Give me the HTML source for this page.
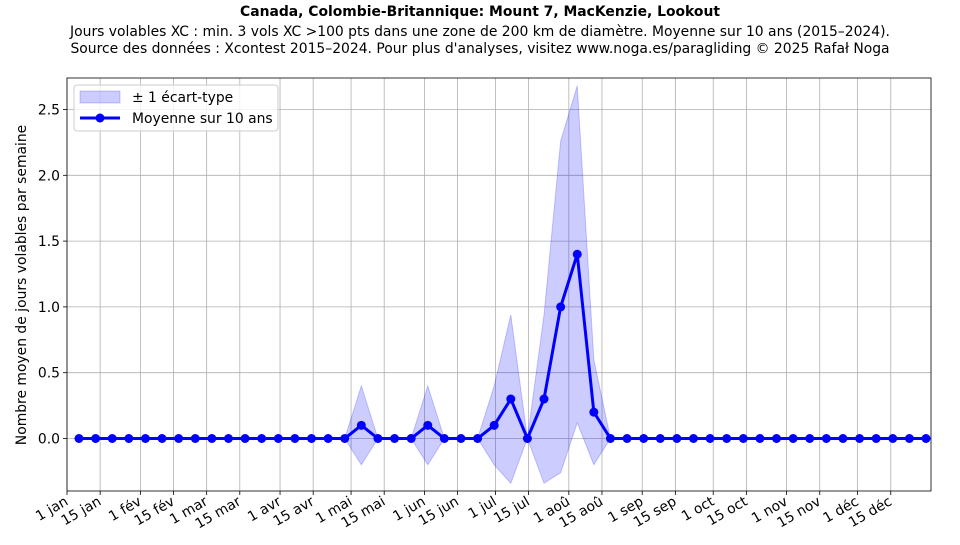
<!DOCTYPE html>
<html><head><meta charset="utf-8"><style>
body{margin:0;background:#fff;width:960px;height:540px;overflow:hidden}
text{font-family:"DejaVu Sans","Liberation Sans",sans-serif;fill:#000}
</style></head><body>
<svg id="s" width="960" height="540" xmlns="http://www.w3.org/2000/svg">
<text x="480" y="16" font-size="13.9" font-weight="bold" text-anchor="middle">Canada, Colombie-Britannique: Mount 7, MacKenzie, Lookout</text>
<text x="480" y="36" font-size="13.9" text-anchor="middle">Jours volables XC : min. 3 vols XC &gt;100 pts dans une zone de 200 km de diamètre. Moyenne sur 10 ans (2015–2024).</text>
<text x="480" y="53" font-size="13.9" text-anchor="middle">Source des données : Xcontest 2015–2024. Pour plus d'analyses, visitez www.noga.es/paragliding © 2025 Rafał Noga</text>
<g id="g"></g>
</svg>
<script>
var L=67,R=931,T=78,B=491,x0=438.5,k=131.6;
function Y(v){return x0-v*k}
function X(d){return L+d*(R-L)/365}
var h='';
var days=[0,14,31,45,59,73,90,104,120,134,151,165,181,195,212,226,243,257,273,287,304,318,334,348];
var names=['1 jan','15 jan','1 fév','15 fév','1 mar','15 mar','1 avr','15 avr','1 mai','15 mai','1 jun','15 jun','1 jul','15 jul','1 aoû','15 aoû','1 sep','15 sep','1 oct','15 oct','1 nov','15 nov','1 déc','15 déc'];
days.forEach(function(d,i){var x=X(d);h+='<line x1="'+x+'" y1="'+T+'" x2="'+x+'" y2="'+B+'" stroke="#b0b0b0" stroke-width="0.8"/>';
h+='<line x1="'+x+'" y1="'+B+'" x2="'+x+'" y2="'+(B+4)+'" stroke="#000" stroke-width="0.8"/>';
h+='<text font-size="13.9" text-anchor="end" transform="translate('+(x+2)+','+(B+13)+') rotate(-30)">'+names[i]+'</text>';});
[0,0.5,1,1.5,2,2.5].forEach(function(v){var y=Y(v);h+='<line x1="'+L+'" y1="'+y+'" x2="'+R+'" y2="'+y+'" stroke="#b0b0b0" stroke-width="0.8"/>';
h+='<line x1="'+(L-4)+'" y1="'+y+'" x2="'+L+'" y2="'+y+'" stroke="#000" stroke-width="0.8"/>';
h+='<text font-size="13.9" text-anchor="end" x="'+(L-7)+'" y="'+(y+5)+'">'+v.toFixed(1)+'</text>';});
var m=[],s=[];for(var i=0;i<52;i++){m[i]=0;s[i]=0;}
m[17]=0.1;s[17]=0.3;m[21]=0.1;s[21]=0.3;m[25]=0.1;s[25]=0.3;m[26]=0.3;s[26]=0.64;m[28]=0.3;s[28]=0.64;
m[29]=1.0;s[29]=1.26;m[30]=1.4;s[30]=1.28;m[31]=0.2;s[31]=0.4;
function PX(i){return 79+i*(926-79)/51}
var up=[],lo=[],ln=[];
for(i=0;i<52;i++){up.push(PX(i)+','+Y(m[i]+s[i]));lo.unshift(PX(i)+','+Y(m[i]-s[i]));ln.push(PX(i)+','+Y(m[i]));}
h+='<polygon points="'+up.concat(lo).join(' ')+'" fill="#0000ff" fill-opacity="0.2" stroke="#0000ff" stroke-opacity="0.2"/>';
h+='<polyline points="'+ln.join(' ')+'" fill="none" stroke="#0000ff" stroke-width="3"/>';
for(i=0;i<52;i++)h+='<circle cx="'+PX(i)+'" cy="'+Y(m[i])+'" r="4.5" fill="#0000ff"/>';
h+='<rect x="'+L+'" y="'+T+'" width="'+(R-L)+'" height="'+(B-T)+'" fill="none" stroke="#000" stroke-width="0.8"/>';
h+='<text font-size="13.9" text-anchor="middle" transform="translate(26,285) rotate(-90)">Nombre moyen de jours volables par semaine</text>';
h+='<rect x="74" y="85" width="204" height="46" rx="3" fill="#fff" fill-opacity="0.8" stroke="#ccc"/>';
h+='<rect x="80" y="91" width="40" height="12" fill="#0000ff" fill-opacity="0.2" stroke="#0000ff" stroke-opacity="0.2"/>';
h+='<text font-size="13.9" x="132" y="102">± 1 écart-type</text>';
h+='<line x1="80" y1="118" x2="120" y2="118" stroke="#0000ff" stroke-width="3"/><circle cx="100" cy="118" r="4.5" fill="#0000ff"/>';
h+='<text font-size="13.9" x="132" y="123">Moyenne sur 10 ans</text>';
document.getElementById('g').innerHTML=h;
</script>
</body></html>
